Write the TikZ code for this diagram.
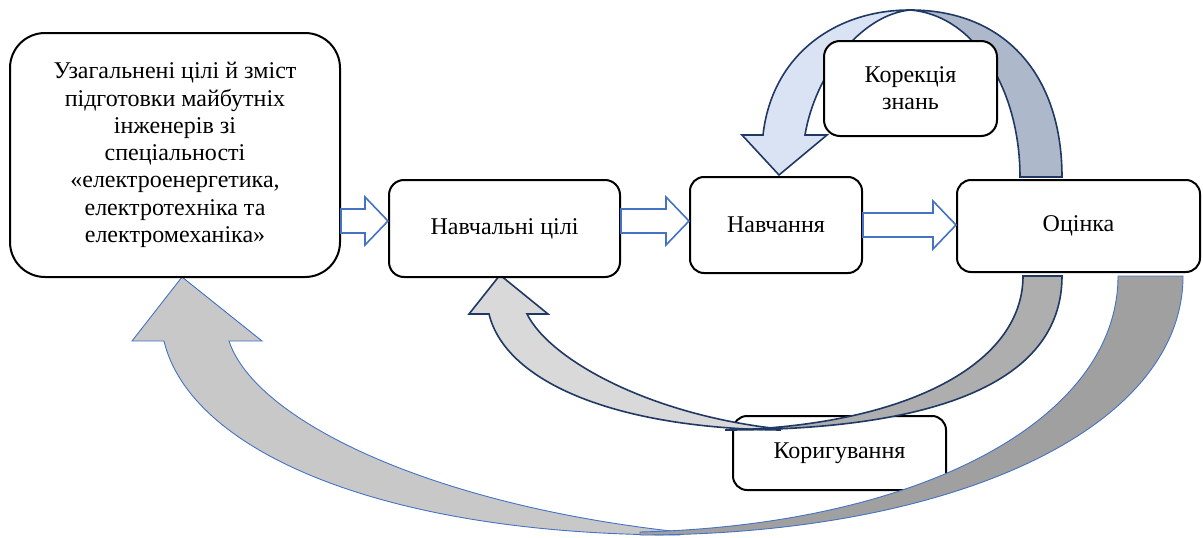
\documentclass[tikz,border=0pt]{standalone}
\usepackage{fontspec}
\setmainfont{Liberation Serif}
\newfontfamily\tnrfont{Liberation Serif}
\usetikzlibrary{calc}
\definecolor{arrowblue}{HTML}{4472C4}
\definecolor{navy}{HTML}{203864}
\definecolor{toplight}{HTML}{DAE3F3}
\definecolor{topdark}{HTML}{ADB9CA}
\definecolor{midlight}{HTML}{D9D9D9}
\definecolor{middark}{HTML}{AEAEAE}
\definecolor{biglight}{HTML}{C8C8C8}
\definecolor{bigdark}{HTML}{A0A0A0}
\tikzset{
  box/.style={draw=black, line width=2pt, fill=white, rounded corners=15pt,
    align=center, inner sep=0pt, font=\tnrfont\fontsize{24}{27.3}\selectfont},
  barrow/.style={draw=arrowblue, line width=1.6pt, fill=white, line join=miter},
  navyedge/.style={draw=navy, line width=1.6pt, line join=miter},
  blueedge/.style={draw=arrowblue, line width=0.9pt, line join=miter},
}
\newcommand\blockarr[3]{%
  \draw[barrow] let \p1=(#1.east), \p2=(#2.west), \p3=(0,#3) in
    (\x1,\y3+12) -- (\x2-23,\y3+12) -- (\x2-23,\y3+24) -- (\x2,\y3)
    -- (\x2-23,\y3-24) -- (\x2-23,\y3-12) -- (\x1,\y3-12) -- cycle;}
\begin{document}
\begin{tikzpicture}[x=1pt,y=-1pt]
\useasboundingbox (0,0) rectangle (1203,538);
% lower box (behind arrows)
\node[box, minimum width=213pt, minimum height=74pt, rounded corners=14pt] (kor) at (839.5,453) {Коригування};
% big outer curved arrow
\path[fill=biglight, blueedge] (164,341) .. controls (190,450) and (380,535) .. (680,535)
  -- (680,532) .. controls (430,505) and (255,420) .. (229,341) -- (262,341) -- (182,277) -- (132,341) -- cycle;
\path[fill=bigdark, blueedge] (1118,276) .. controls (1118,420) and (920,525) .. (640,532)
  -- (640,535) .. controls (950,535) and (1183,430) .. (1183,276) -- cycle;
% inner lower curved arrow
\path[fill=midlight, navyedge] (489,314) .. controls (505,380) and (610,428) .. (780,430)
  -- (780,429) .. controls (650,415) and (550,360) .. (527,314) -- (548,314) -- (500,275) -- (469,314) -- cycle;
\path[fill=middark, navyedge] (1062,276) .. controls (1062,385) and (930,430) .. (725,430)
  -- (730,430) .. controls (905,425) and (1023,365) .. (1023,276) -- cycle;
% top curved arrow
\path[fill=toplight, navyedge] (910,10) .. controls (835,10) and (772,55) .. (763,135)
  -- (742,135) -- (779,175) -- (827,135) -- (805,135)
  .. controls (815,75) and (860,15) .. (910,10) -- cycle;
\path[fill=topdark, navyedge] (910,10) .. controls (1005,10) and (1062,75) .. (1062,177)
  -- (1020,177) .. controls (1020,90) and (975,15) .. (910,10) -- cycle;
% boxes
\node[box, minimum width=330pt, minimum height=244pt, rounded corners=35pt] (goal) at (175,155)
  {Узагальнені цілі й зміст\\підготовки майбутніх\\інженерів зі\\спеціальності\\«електроенергетика,\\електротехніка та\\електромеханіка»};
\node[box, minimum width=231pt, minimum height=97pt] (ncil) at (504.5,228.5) {Навчальні цілі};
\node[box, minimum width=172pt, minimum height=96pt, rounded corners=14pt] (navch) at (776,225) {Навчання};
\node[box, minimum width=243pt, minimum height=92pt, rounded corners=14pt] (ocin) at (1078.5,226) {Оцінка};
\node[box, minimum width=173pt, minimum height=95pt, rounded corners=16pt] (korek) at (910.5,88.5) {Корекція\\знань};
% block arrows
\blockarr{goal}{ncil}{221}
\blockarr{ncil}{navch}{221}
\blockarr{navch}{ocin}{225}
\end{tikzpicture}
\end{document}
